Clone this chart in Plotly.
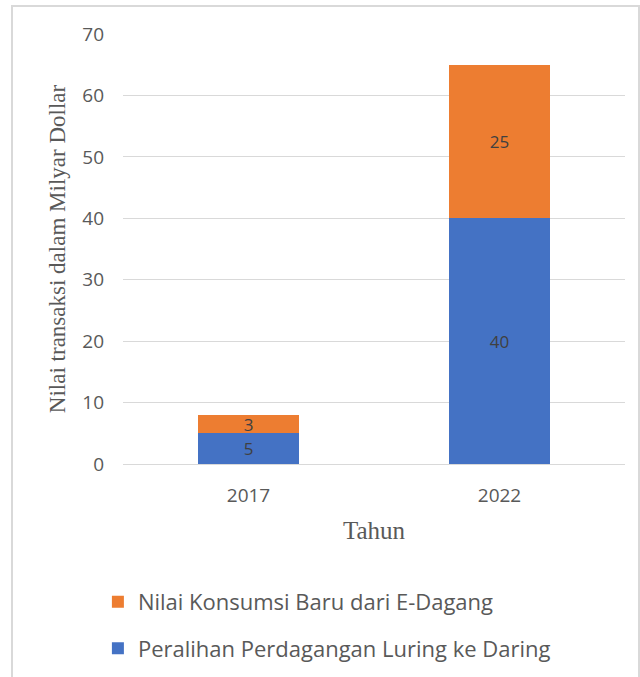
import plotly.graph_objects as go

years = ["2017", "2022"]
shift_online = [5, 40]        # Peralihan Perdagangan Luring ke Daring
new_consumption = [3, 25]     # Nilai Konsumsi Baru dari E-Dagang
y_ticks = [0, 10, 20, 30, 40, 50, 60, 70]

BLUE = "#4472C4"
ORANGE = "#ED7D31"
TEXT = "#595959"
SANS = "'Open Sans', Lato, sans-serif"
SERIF = "'Liberation Serif', 'DejaVu Serif', serif"

fig = go.Figure()
fig.add_trace(go.Bar(
    x=years, y=shift_online, name="Peralihan Perdagangan Luring ke Daring",
    marker=dict(color=BLUE, line=dict(width=0)),
    text=shift_online, textposition="inside", insidetextanchor="middle",
    textangle=0, constraintext="none",
    textfont=dict(color="#404040", size=17, family=SANS),
    legendgroup="b", legendrank=2,
))
fig.add_trace(go.Bar(
    x=years, y=new_consumption, name="Nilai Konsumsi Baru dari E-Dagang",
    marker=dict(color=ORANGE, line=dict(width=0)),
    text=new_consumption, textposition="inside", insidetextanchor="middle",
    textangle=0, constraintext="none",
    textfont=dict(color="#404040", size=17, family=SANS),
    legendgroup="a", legendrank=1,
))

fig.update_layout(
    width=640, height=677,
    barmode="stack", bargap=0.6,
    plot_bgcolor="white", paper_bgcolor="white",
    margin=dict(l=123, r=15, t=34, b=213, autoexpand=False),
    font=dict(family=SANS, color=TEXT),
    xaxis=dict(
        showgrid=False, showline=False, ticks="", ticklabelstandoff=18, automargin=False,
        tickfont=dict(size=19, color=TEXT),
        title=dict(text="Tahun", font=dict(family=SERIF, size=25, color=TEXT), standoff=14),
    ),
    yaxis=dict(
        range=[0, 70], tickvals=y_ticks, showgrid=True, gridcolor="#d9d9d9", gridwidth=1,
        zeroline=True, zerolinecolor="#d9d9d9", zerolinewidth=1, showline=False,
        ticks="", ticklabelstandoff=18, automargin=False,
        tickfont=dict(size=19, color=TEXT),
        title=dict(text="Nilai transaksi dalam Milyar Dollar",
                   font=dict(family=SERIF, size=23, color=TEXT), standoff=10),
    ),
    legend=dict(
        orientation="v", traceorder="grouped", x=-0.05, xanchor="left",
        yref="container", y=0.142, yanchor="top", tracegroupgap=15,
        font=dict(size=22, color=TEXT, family=SANS), bgcolor="rgba(0,0,0,0)",
    ),
    shapes=[dict(
        type="rect", xref="paper", yref="paper",
        x0=(12 - 123) / 502, x1=(639 - 123) / 502,
        y0=-1, y1=(464 - 6) / 430,
        line=dict(color="#d9d9d9", width=2), fillcolor="rgba(0,0,0,0)", layer="below",
    )],
)

fig.write_html("out.html")
